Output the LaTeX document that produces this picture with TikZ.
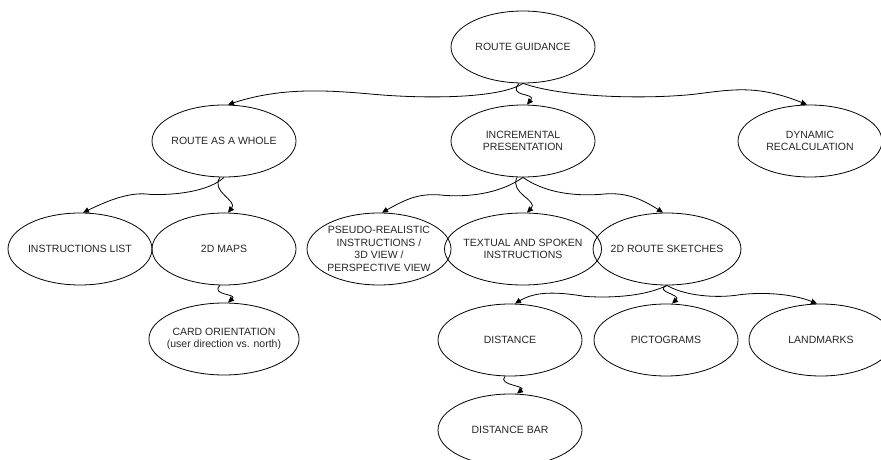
\documentclass[tikz,border=0pt]{standalone}
\usepackage{fontspec}
\setmainfont{Liberation Sans}
\usetikzlibrary{shapes.geometric,arrows.meta}
\begin{document}
\begin{tikzpicture}[x=1pt,y=-1pt,
  ell/.style={ellipse,draw,line width=0.8pt,minimum width=144pt,minimum height=72pt,
    inner sep=-4pt,align=center,text=black!85,
    font=\fontsize{10.5pt}{12.6pt}\selectfont},
  edge/.style={line width=0.8pt,-{Triangle[length=6pt,width=5.5pt]}}]
\useasboundingbox (0,0) rectangle (881,460);
\clip (0,0) rectangle (881,460);
\node[ell] (rg) at (523,47) {ROUTE GUIDANCE};
\node[ell] (raw) at (224,141) {ROUTE AS A WHOLE};
\node[ell] (ip) at (523,141) {INCREMENTAL\\PRESENTATION};
\node[ell] (dr) at (810,141) {DYNAMIC\\RECALCULATION};
\node[ell] (il) at (80,249) {INSTRUCTIONS LIST};
\node[ell] (dm) at (224,249) {2D MAPS};
\node[ell] (co) at (224,339) {CARD ORIENTATION\\(user direction vs. north)};
\node[ell] (ps) at (379,249) {PSEUDO-REALISTIC\\INSTRUCTIONS /\\3D VIEW /\\PERSPECTIVE VIEW};
\node[ell] (ts) at (523,249) {TEXTUAL AND SPOKEN\\INSTRUCTIONS};
\node[ell] (rs) at (667,249) {2D ROUTE SKETCHES};
\node[ell] (di) at (510,340) {DISTANCE};
\node[ell] (pi) at (666,340) {PICTOGRAMS};
\node[ell] (lm) at (821,340) {LANDMARKS};
\node[ell] (db) at (510,430) {DISTANCE BAR};
% edges
\draw[edge] (rg.south) .. controls +(-25,16) and +(45,4) .. ++(-148,11)
  .. controls +(-45,-4) and +(55,-18) .. ([xshift=4pt]raw.north);
\draw[edge] ([xshift=-4pt]rg.south) .. controls +(-12,14) and +(10,-12) .. ([xshift=4pt]ip.north);
\draw[edge] (rg.south) .. controls +(40,14) and +(-50,5) .. ++(170,11)
  .. controls +(40,-5) and +(-50,-20) .. ([xshift=-3pt]dr.north);
\draw[edge] (raw.south) .. controls +(-15,14) and +(25,1) .. ++(-74,17)
  .. controls +(-20,-3) and +(25,-12) .. ([xshift=3pt]il.north);
\draw[edge] ([xshift=-4pt]raw.south) .. controls +(-10,14) and +(10,-12) .. ([xshift=4pt]dm.north);
\draw[edge] ([xshift=-4pt]dm.south) .. controls +(-10,10) and +(10,-9) .. ([xshift=4pt]co.north);
\draw[edge] (ip.south) .. controls +(-20,14) and +(30,2) .. ++(-78,18)
  .. controls +(-25,-3) and +(25,-14) .. ([xshift=3pt]ps.north);
\draw[edge] ([xshift=-6pt]ip.south) .. controls +(-8,16) and +(12,-12) .. ([xshift=4pt]ts.north);
\draw[edge] (ip.south) .. controls +(20,14) and +(-30,2) .. ++(77,17)
  .. controls +(25,-3) and +(-22,-14) .. ([xshift=-4pt]rs.north);
\draw[edge] (rs.south) .. controls +(-20,10) and +(30,2) .. ++(-82,11)
  .. controls +(-30,-5) and +(20,-12) .. ([xshift=5pt]di.north);
\draw[edge] (rs.south) .. controls +(-14,6) and +(10,-9) .. ([xshift=6pt]pi.north);
\draw[edge] (rs.south) .. controls +(15,9) and +(-25,3) .. ++(68,10)
  .. controls +(25,-4) and +(-25,-10) .. ([xshift=-4pt]lm.north);
\draw[edge] ([xshift=-5pt]di.south) .. controls +(-8,9) and +(10,-8) .. ([xshift=7pt]db.north);
\end{tikzpicture}
\end{document}
